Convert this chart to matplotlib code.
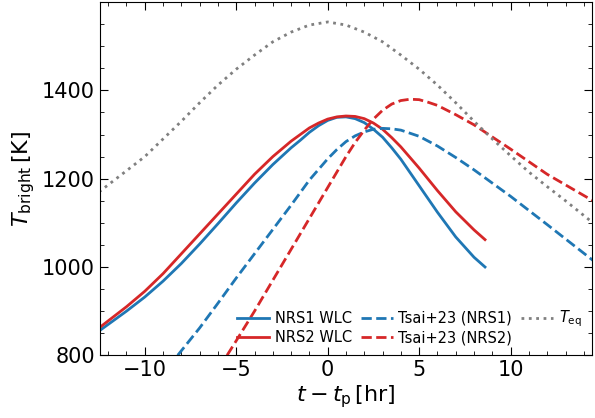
import matplotlib
matplotlib.use("Agg")
import matplotlib.pyplot as plt
from matplotlib.ticker import AutoMinorLocator

x_nrs1 = [-12.5, -11, -10, -9, -8, -7, -6, -5, -4, -3, -2, -1.5, -1, -0.5, 0, 0.5, 1, 1.5, 2, 2.5, 3, 3.5, 4, 5, 6, 7, 8, 8.6]
y_nrs1 = [855, 900, 932, 968, 1008, 1052, 1098, 1145, 1190, 1232, 1270, 1287, 1305, 1320, 1332, 1339, 1340, 1336, 1327, 1312, 1294, 1270, 1244, 1184, 1124, 1068, 1022, 1000]
x_nrs2 = [-12.5, -11, -10, -9, -8, -7, -6, -5, -4, -3, -2, -1.5, -1, -0.5, 0, 0.5, 1, 1.5, 2, 2.5, 3, 3.5, 4, 5, 6, 7, 8, 8.6]
y_nrs2 = [862, 910, 945, 985, 1030, 1075, 1120, 1165, 1210, 1250, 1285, 1300, 1315, 1326, 1335, 1340, 1342, 1341, 1336, 1326, 1312, 1293, 1272, 1224, 1173, 1125, 1084, 1062]
x_tsai1 = [-8.2, -7, -6, -5, -4, -3, -2, -1, 0, 0.5, 1, 1.5, 2, 2.5, 3, 3.5, 4, 5, 6, 7, 8, 10, 12, 14.5]
y_tsai1 = [800, 862, 918, 975, 1030, 1085, 1140, 1197, 1245, 1266, 1284, 1297, 1306, 1312, 1314, 1313, 1310, 1296, 1274, 1248, 1220, 1160, 1096, 1015]
x_tsai2 = [-5.5, -5, -4, -3, -2, -1, 0, 0.5, 1, 1.5, 2, 2.5, 3, 3.5, 4, 4.5, 5, 5.5, 6, 7, 8, 10, 12, 14.5]
y_tsai2 = [800, 833, 900, 970, 1040, 1110, 1180, 1215, 1250, 1282, 1310, 1335, 1355, 1369, 1377, 1380, 1379, 1373, 1366, 1345, 1322, 1267, 1210, 1150]
x_teq = [-12.5, -11, -10, -9, -8, -7, -6, -5, -4, -3, -2, -1, 0, 1, 2, 3, 4, 5, 6, 7, 8, 9, 10, 11, 12, 13, 14.5]
y_teq = [1170, 1218, 1250, 1290, 1330, 1372, 1412, 1448, 1480, 1510, 1532, 1548, 1555, 1548, 1532, 1510, 1480, 1448, 1412, 1372, 1330, 1290, 1252, 1215, 1182, 1150, 1100]

blue = "#1f77b4"
red = "#d62728"
fig = plt.figure(figsize=(5.95, 4.18), dpi=100)
ax = fig.add_axes([0.168, 0.15, 0.827, 0.845])
ax.plot(x_nrs1, y_nrs1, color=blue, lw=2, label="NRS1 WLC")
ax.plot(x_nrs2, y_nrs2, color=red, lw=2, label="NRS2 WLC")
ax.plot(x_tsai1, y_tsai1, color=blue, lw=2, ls="--", label="Tsai+23 (NRS1)")
ax.plot(x_tsai2, y_tsai2, color=red, lw=2, ls="--", label="Tsai+23 (NRS2)")
ax.plot(x_teq, y_teq, color="gray", lw=2, ls=":", label=r"$T_{\rm eq}$")
ax.set_xlim(-12.45, 14.45)
ax.set_ylim(800, 1600)
ax.set_xticks([-10, -5, 0, 5, 10])
ax.set_yticks([800, 1000, 1200, 1400])
ax.xaxis.set_minor_locator(AutoMinorLocator(5))
ax.yaxis.set_minor_locator(AutoMinorLocator(4))
ax.tick_params(which="both", direction="in", top=True, right=True, labelsize=15)
ax.tick_params(which="major", length=6)
ax.tick_params(which="minor", length=3)
ax.set_xlabel(r"$t-t_{\rm p}\,$[hr]", fontsize=16, labelpad=2)
ax.set_ylabel(r"$T_{\rm bright}\,$[K]", fontsize=16)
ax.legend(loc="lower right", ncol=3, frameon=False, fontsize=10.5,
          handlelength=2.2, columnspacing=0.6, handletextpad=0.4, labelspacing=0.3,
          borderaxespad=0.3)
fig.savefig("out.png", dpi=100)
